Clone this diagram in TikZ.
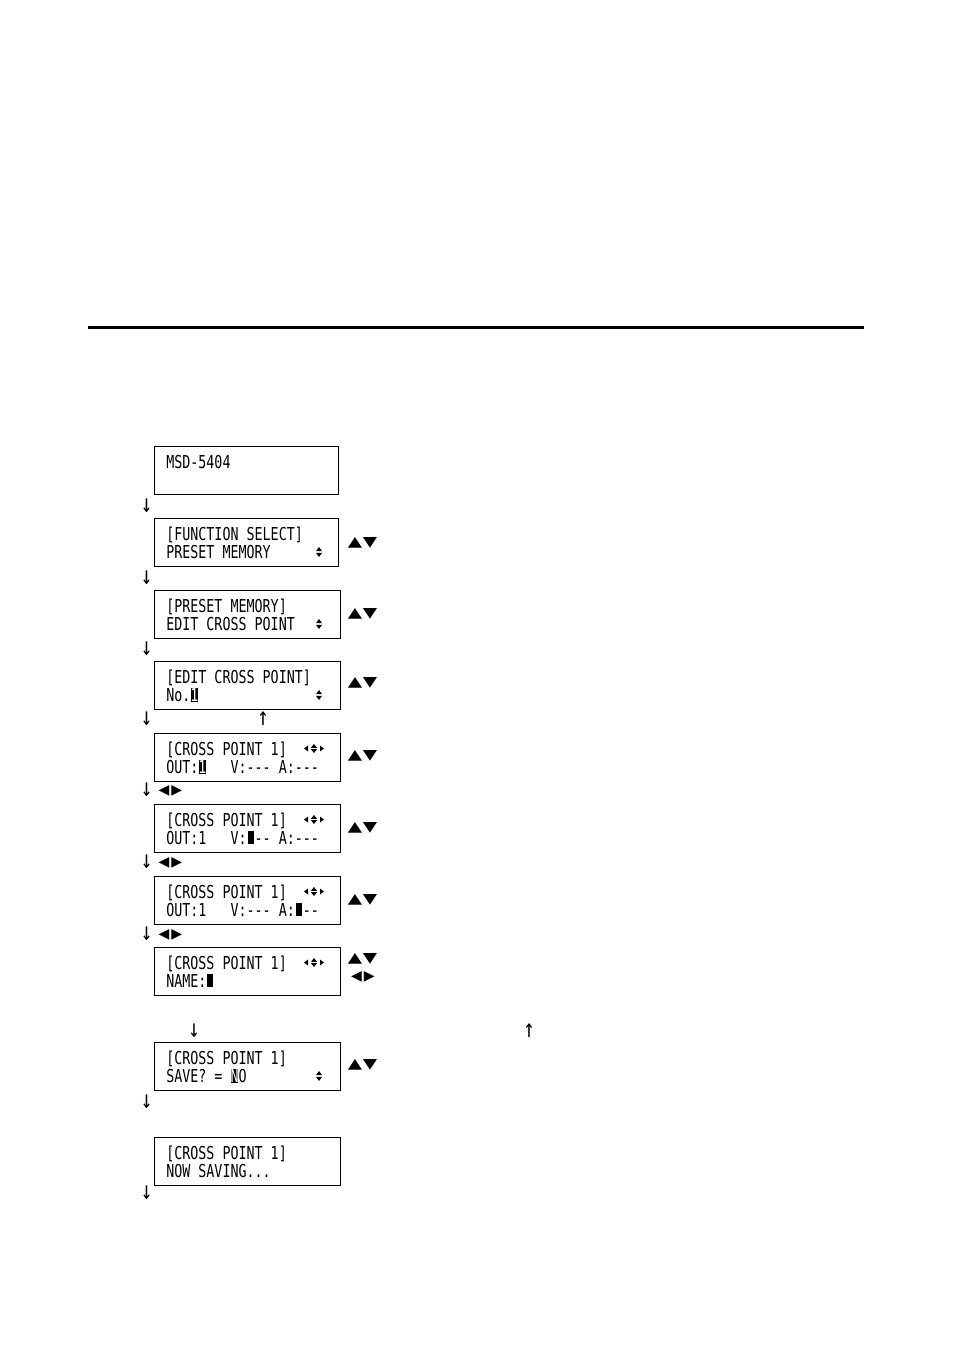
\documentclass[tikz,border=0pt]{standalone}
\usepackage{fontspec}
\usepackage{tikz}
\newfontfamily\lcd[FakeStretch=0.75,Ligatures=TeXOff]{DejaVu Sans Mono}
\newfontfamily\symf{DejaVu Sans}
\definecolor{ink}{HTML}{000000}
\newcommand{\inv}[1]{\makebox[6pt][c]{\rule[-0.7pt]{4.8pt}{10.8pt}}\llap{\makebox[6pt][c]{\textcolor{white}{#1}}}}
\newcommand{\blk}{\makebox[6pt][c]{\rule{4.5pt}{9.5pt}}}

\begin{document}
\begin{tikzpicture}[x=0.75pt,y=-0.75pt,font=\lcd\fontsize{13.35}{16}\selectfont,
  screen/.style={draw=ink,line width=0.8pt,inner sep=0pt,anchor=north west,minimum height=36pt},
  lcdtext/.style={anchor=base west,inner sep=0pt},
  stepmark/.style={font=\lcd\fontsize{19}{19}\selectfont,inner sep=0pt},
  keys/.style={font=\symf\fontsize{14}{14}\selectfont,inner sep=0pt}]
  \useasboundingbox (0,0) rectangle (954,1350);
  \draw[ink,line width=2.25pt] (88,327)--(864,327);
  % name / top / right edge / first line / second line
  \foreach \sn/\st/\sr/\txa/\txb in {scr1/446/338/MSD-5404/{},
      scr2/518/338/{[FUNCTION SELECT]}/{PRESET MEMORY},
      scr3/590/340/{[PRESET MEMORY]}/{EDIT CROSS POINT},
      scr4/661/340/{[EDIT CROSS POINT]}/{No.\inv{1}},
      scr5/733/340/{[CROSS POINT 1]}/{OUT:\inv{1}~~~V:---~A:---},
      scr6/804/340/{[CROSS POINT 1]}/{OUT:1~~~V:\blk--~A:---},
      scr7/876/340/{[CROSS POINT 1]}/{OUT:1~~~V:---~A:\blk--},
      scr8/947/340/{[CROSS POINT 1]}/{NAME:\blk},
      scr9/1042/340/{[CROSS POINT 1]}/{SAVE?~=~\inv{N}O},
      scr10/1137/340/{[CROSS POINT 1]}/{NOW SAVING...}}{
    \pgfmathsetmacro{\sw}{(\sr-154)*0.75}
    \node[screen,minimum width=\sw pt] (\sn) at (154,\st) {};
    \node[lcdtext] (\sn-a) at (166,\st+22) {\txa};
    \node[lcdtext] (\sn-b) at (166,\st+40) {\txb};
  }
  % up/down marks on the display
  \foreach \ix/\iy in {319/552,319/624,319/695,319/1076}{
    \fill[ink] (\ix-3,\iy-0.8)--(\ix+3,\iy-0.8)--(\ix,\iy-5)--cycle;
    \fill[ink] (\ix-3,\iy+0.8)--(\ix+3,\iy+0.8)--(\ix,\iy+5)--cycle;
  }
  \foreach \ix/\iy in {314/748.5,314/819.5,314/891.5,314/962.5}{
    \fill[ink] (\ix-3,\iy-0.7)--(\ix+3,\iy-0.7)--(\ix,\iy-4.5)--cycle;
    \fill[ink] (\ix-3,\iy+0.7)--(\ix+3,\iy+0.7)--(\ix,\iy+4.5)--cycle;
    \fill[ink] (\ix-6,\iy-3)--(\ix-6,\iy+3)--(\ix-10,\iy)--cycle;
    \fill[ink] (\ix+6,\iy-3)--(\ix+6,\iy+3)--(\ix+10,\iy)--cycle;
  }
  % step arrows
  \foreach \an/\ax/\ay/\ag in {dn1/146.5/506/↓,dn2/146.5/578/↓,dn3/146.5/649/↓,
      dn4/146.5/719/↓,up1/263/719/↑,dn5/146.5/790/↓,dn6/146.5/862/↓,dn7/146.5/934/↓,
      dn8/194/1031/↓,up2/529/1031/↑,dn9/146.5/1102/↓,dn10/146.5/1193/↓}
    \node[stepmark] (\an) at (\ax,\ay) {\ag};
  % key marks
  \foreach \kn/\ky in {ud2/542.5,ud3/614,ud4/683,ud5/756,ud6/827.5,ud7/899.5,ud8/959,ud9/1065}
    \node[keys] (\kn) at (362.5,\ky) {\scalebox{1}[0.75]{▲\hspace{0.5pt}▼}};
  \foreach \kn/\kx/\ky in {lr5/170.5/791,lr6/170.5/863,lr7/170.5/935,lr8/363/977}
    \node[keys] (\kn) at (\kx,\ky) {\scalebox{0.75}{◀\hspace{2pt}▶}};
\end{tikzpicture}
\end{document}
